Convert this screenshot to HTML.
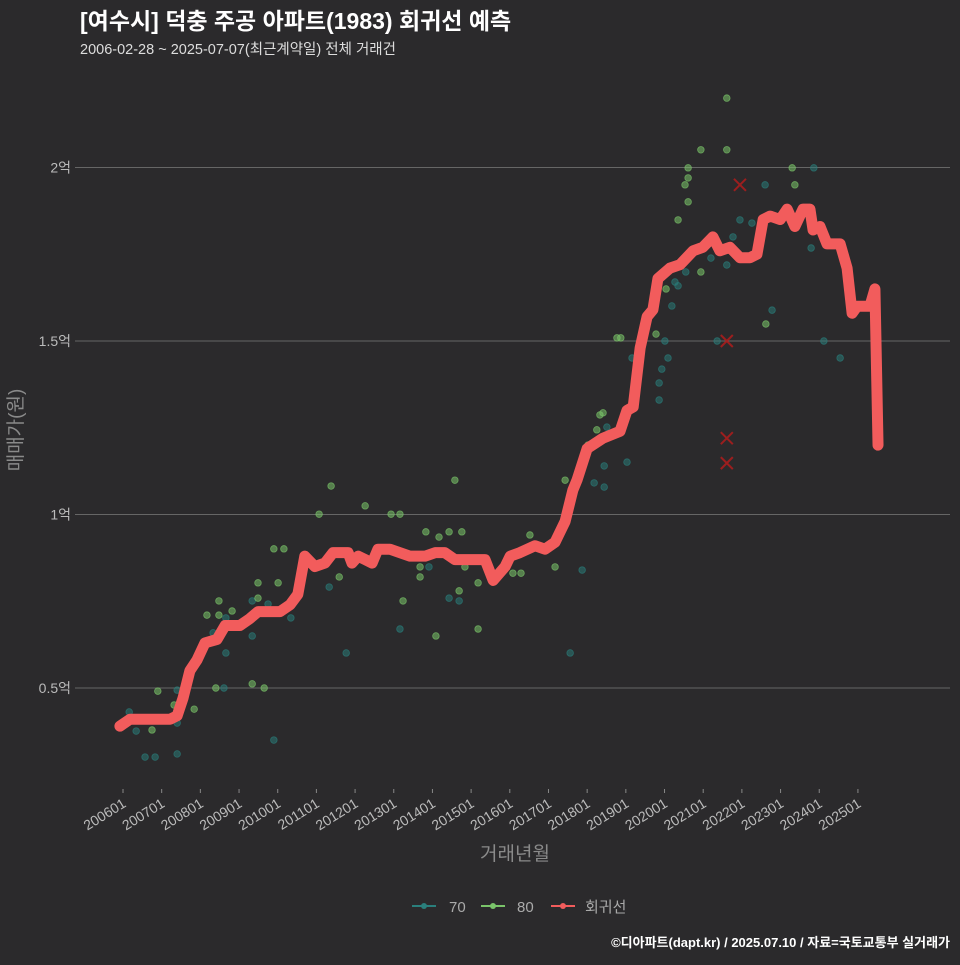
<!DOCTYPE html>
<html><head><meta charset="utf-8"><style>
html,body{margin:0;padding:0;background:#2b2a2c;}
svg text{font-family:"Liberation Sans","Noto Sans CJK KR",sans-serif;}
</style></head><body>
<svg id="chart" width="960" height="960" viewBox="0 0 960 960" xmlns="http://www.w3.org/2000/svg">
<rect width="960" height="960" fill="#2b2a2c"/>
<text x="80" y="29" font-size="23" font-weight="bold" fill="#ffffff">[여수시] 덕충 주공 아파트(1983) 회귀선 예측</text>
<text x="80" y="54" font-size="14.5" fill="#dddddd">2006-02-28 ~ 2025-07-07(최근계약일) 전체 거래건</text>
<g id="grid"></g>
<g id="xaxis"></g>
<g id="scatter"></g>
<g id="line"></g>
<g id="outliers"></g>
<text transform="translate(22,430) rotate(-90)" text-anchor="middle" font-size="19" fill="#8a8a8a">매매가(원)</text>
<text x="515" y="860" text-anchor="middle" font-size="19" fill="#8a8a8a">거래년월</text>
<g>
  <g><line x1="412" y1="906" x2="436" y2="906" stroke="#2a7f7c" stroke-width="2"/><circle cx="424" cy="906" r="3" fill="#2a7f7c"/><text x="449" y="912" font-size="15" fill="#aaaaaa">70</text></g>
  <g><line x1="481" y1="906" x2="505" y2="906" stroke="#7ac46a" stroke-width="2"/><circle cx="493" cy="906" r="3" fill="#7ac46a"/><text x="517" y="912" font-size="15" fill="#aaaaaa">80</text></g>
  <g><line x1="551" y1="906" x2="575" y2="906" stroke="#f25c5c" stroke-width="2"/><circle cx="563" cy="906" r="3" fill="#f25c5c"/><text x="585" y="912" font-size="15" fill="#aaaaaa">회귀선</text></g>
</g>
<text x="950" y="947" text-anchor="end" font-size="13" font-weight="bold" fill="#ffffff">©디아파트(dapt.kr) / 2025.07.10 / 자료=국토교통부 실거래가</text>
</svg>
<script>
const yTicks=[0.5,1,1.5,2];
const yTickLabels=["0.5억","1억","1.5억","2억"];
const xTickYears=[2006,2007,2008,2009,2010,2011,2012,2013,2014,2015,2016,2017,2018,2019,2020,2021,2022,2023,2024,2025];
const xTickLabels=["200601","200701","200801","200901","201001","201101","201201","201301","201401","201501","201601","201701","201801","201901","202001","202101","202201","202301","202401","202501"];
const lineT=[2005.92,2006.18,2006.70,2007.22,2007.40,2007.55,2007.73,2007.91,2008.12,2008.43,2008.64,2009.02,2009.28,2009.49,2010.06,2010.32,2010.52,2010.70,2010.96,2011.22,2011.43,2011.82,2011.92,2012.08,2012.26,2012.44,2012.59,2012.90,2013.16,2013.42,2013.81,2014.07,2014.32,2014.58,2014.84,2015.36,2015.57,2015.88,2016.01,2016.26,2016.65,2016.91,2017.17,2017.43,2017.63,2017.74,2018.00,2018.41,2018.85,2019.03,2019.19,2019.37,2019.55,2019.70,2019.83,2020.14,2020.40,2020.74,2020.99,2021.25,2021.43,2021.69,2021.95,2022.21,2022.39,2022.55,2022.73,2022.99,2023.17,2023.37,2023.58,2023.76,2023.84,2024.02,2024.20,2024.54,2024.72,2024.85,2024.98,2025.31,2025.44,2025.52];
const lineV=[0.39,0.41,0.41,0.41,0.42,0.47,0.55,0.58,0.63,0.64,0.68,0.68,0.70,0.72,0.72,0.74,0.77,0.88,0.85,0.86,0.89,0.89,0.86,0.88,0.87,0.86,0.90,0.90,0.89,0.88,0.88,0.89,0.89,0.87,0.87,0.87,0.81,0.85,0.88,0.89,0.91,0.90,0.92,0.98,1.07,1.10,1.19,1.22,1.24,1.30,1.31,1.48,1.57,1.59,1.68,1.71,1.72,1.76,1.77,1.80,1.76,1.77,1.74,1.74,1.75,1.85,1.86,1.85,1.88,1.83,1.88,1.88,1.82,1.83,1.78,1.78,1.71,1.58,1.60,1.60,1.65,1.20];
const ptT=[2006.16,2006.34,2006.57,2006.83,2006.75,2006.90,2007.40,2007.40,2007.32,2007.40,2007.84,2008.17,2008.33,2008.48,2008.48,2008.66,2008.82,2008.66,2008.40,2008.61,2009.34,2009.65,2009.34,2009.49,2009.49,2010.01,2009.75,2009.34,2009.90,2010.16,2010.34,2009.90,2011.07,2011.33,2011.59,2011.77,2011.38,2012.26,2012.93,2013.16,2013.24,2013.16,2013.68,2013.68,2013.91,2013.83,2014.17,2014.43,2014.76,2014.09,2014.43,2014.69,2014.69,2015.18,2015.18,2014.84,2014.58,2016.08,2016.29,2016.52,2017.17,2017.56,2017.87,2017.43,2018.41,2018.33,2018.02,2018.25,2018.51,2018.44,2018.18,2018.44,2019.03,2018.77,2018.87,2019.16,2019.78,2020.01,2020.09,2019.93,2019.86,2019.86,2020.19,2020.04,2020.35,2020.27,2020.55,2020.94,2021.20,2021.61,2021.77,2021.95,2022.26,2020.35,2020.61,2020.53,2020.61,2020.61,2020.94,2021.61,2021.61,2022.60,2023.30,2023.37,2023.86,2023.79,2022.78,2022.62,2021.36,2024.12,2024.54];
const ptV=[0.431,0.376,0.301,0.301,0.379,0.491,0.494,0.310,0.451,0.399,0.439,0.710,0.659,0.751,0.710,0.702,0.722,0.601,0.500,0.500,0.512,0.500,0.751,0.759,0.803,0.803,0.742,0.650,0.901,0.901,0.702,0.350,1.001,0.791,0.820,0.601,1.082,1.025,1.001,1.001,0.751,0.670,0.849,0.820,0.849,0.950,0.935,0.950,0.950,0.650,0.759,0.780,0.751,0.803,0.670,0.849,1.099,0.831,0.831,0.941,0.849,0.601,0.840,1.099,1.293,1.287,1.200,1.244,1.252,1.140,1.091,1.079,1.151,1.509,1.509,1.451,1.520,1.500,1.451,1.419,1.379,1.330,1.601,1.650,1.659,1.670,1.699,1.699,1.739,1.719,1.800,1.849,1.840,1.849,1.901,1.950,1.970,1.999,2.051,2.051,2.200,1.950,1.999,1.950,1.999,1.768,1.589,1.549,1.500,1.500,1.451];
const ptArea=[70,70,70,70,80,80,70,70,80,70,80,80,70,80,80,70,80,70,80,70,80,80,70,80,80,80,70,70,80,80,70,70,80,70,80,70,80,80,80,80,80,70,80,80,70,80,80,80,80,80,70,80,70,80,80,80,80,80,80,80,80,70,70,80,80,80,80,80,70,70,70,70,70,80,80,70,80,70,70,70,70,70,70,80,70,70,70,80,70,70,70,70,70,80,80,80,80,80,80,80,80,70,80,80,70,70,70,80,70,70,70];
const outT=[2021.95,2021.61,2021.61,2021.61];
const outV=[1.950,1.500,1.220,1.148];

const NS="http://www.w3.org/2000/svg";
function xs(t){return 123+(t-2006)*38.68;}
function ys(v){return 688-(v-0.5)*347;}
function mk(tag,attrs,parent){const e=document.createElementNS(NS,tag);for(const k in attrs)e.setAttribute(k,attrs[k]);parent.appendChild(e);return e;}

const grid=document.getElementById('grid');
yTicks.forEach((v,i)=>{
  const l=mk('line',{x1:75,x2:950,y1:ys(v),y2:ys(v),stroke:'#666',"stroke-width":1},grid);
  
  
  const t=mk('text',{x:71,y:ys(v)+5,"text-anchor":"end","font-size":14,fill:'#bbbbbb'},grid);
  
  
  t.textContent=yTickLabels[i];
});
const xa=document.getElementById('xaxis');
xTickYears.forEach((yr,i)=>{
  const x=xs(yr);
  const tk=mk('line',{x1:x,x2:x,y1:789,y2:793,stroke:'#888',"stroke-width":1},xa);
  
  
  const t=mk('text',{transform:`translate(${x+4},${806}) rotate(-32)`,"text-anchor":"end","font-size":14,fill:'#bbbbbb'},xa);
  
  
  t.textContent=xTickLabels[i];
});
const sc=document.getElementById('scatter');
ptT.forEach((t,i)=>{
  const c70=ptArea[i]===70;
  const c=mk('circle',{cx:xs(t),cy:ys(ptV[i]),r:3.3,fill:c70?'#2a7f7c':'#7ac46a',"fill-opacity":c70?0.5:0.55,stroke:c70?'#2a7f7c':'#7ac46a',"stroke-opacity":0.7,"stroke-width":0.8},sc);
  
  
});
const lg=document.getElementById('line');
const p=mk('polyline',{points:lineT.map((t,i)=>xs(t)+','+ys(lineV[i])).join(' '),fill:'none',stroke:'#f25c5c',"stroke-width":11,"stroke-linejoin":"round","stroke-linecap":"round"},lg);


const og=document.getElementById('outliers');
outT.forEach((t,i)=>{
  const x=xs(t),y=ys(outV[i]);
  const g=mk('path',{d:`M${x-6},${y-6}L${x+6},${y+6}M${x-6},${y+6}L${x+6},${y-6}`,stroke:'#b01c1c',"stroke-opacity":0.85,"stroke-width":2},og);
  
  
});
</script>
</body></html>
